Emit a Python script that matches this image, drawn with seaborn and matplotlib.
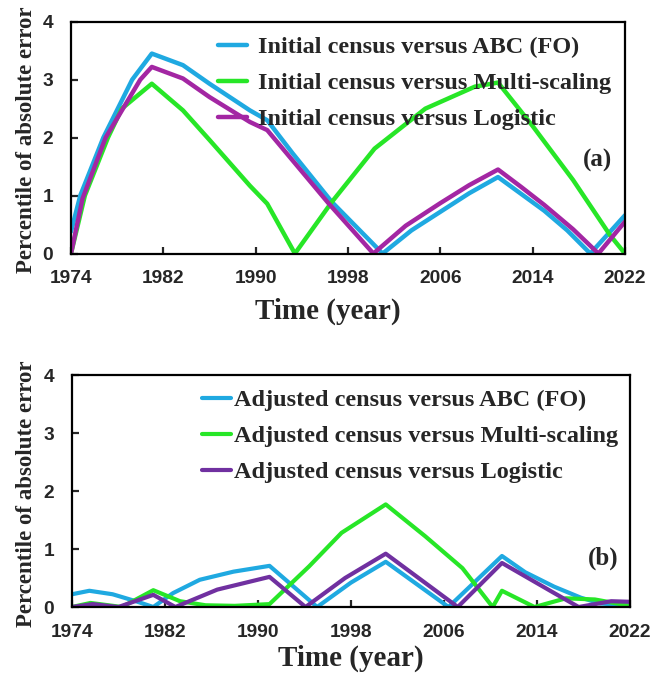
import numpy as np
import pandas as pd
import matplotlib
matplotlib.use("Agg")
import matplotlib.pyplot as plt
import seaborn as sns

# ---------------- data ----------------
# (a) initial census
blue_a_x = [1974, 1974.8, 1976.8, 1979.3, 1981, 1983.7, 1986, 1989.5, 1991, 1993.2, 1996.6,
            2001, 2003.5, 2006, 2008.5, 2011, 2013, 2015, 2017, 2019, 2022]
blue_a_y = [0.38, 1.0, 2.0, 3.0, 3.45, 3.25, 2.93, 2.47, 2.30, 1.73, 0.89,
            0.0, 0.40, 0.72, 1.04, 1.32, 1.03, 0.74, 0.40, 0.0, 0.66]
green_a_x = [1974, 1975.2, 1977.2, 1978.4, 1981, 1983.7, 1986, 1989.5, 1991, 1993.4, 1996.6,
             2000.3, 2004.7, 2009, 2011, 2014, 2017.5, 2020.7, 2022]
green_a_y = [0.0, 1.0, 2.0, 2.5, 2.93, 2.47, 1.96, 1.17, 0.86, 0.0, 0.89,
             1.81, 2.50, 2.88, 2.95, 2.20, 1.27, 0.32, 0.0]
purple_a_x = [1974, 1975, 1977, 1980, 1981, 1983.7, 1986, 1989.5, 1991, 1996.3, 2000.2,
              2003, 2006, 2008.5, 2011, 2013, 2015, 2017.5, 2019.7, 2022]
purple_a_y = [0.0, 0.95, 2.0, 3.0, 3.22, 3.02, 2.70, 2.27, 2.13, 0.87, 0.0,
              0.48, 0.87, 1.18, 1.45, 1.15, 0.84, 0.42, 0.0, 0.55]

# (b) adjusted census
blue_b_x = [1974, 1975.5, 1977.5, 1979.5, 1981, 1982.7, 1985, 1987.9, 1991, 1995.1, 1998,
            2001, 2006.4, 2011, 2013, 2015.5, 2017.8, 2019.5, 2022]
blue_b_y = [0.22, 0.28, 0.22, 0.10, 0.0, 0.24, 0.47, 0.61, 0.71, 0.0, 0.42,
            0.78, 0.0, 0.88, 0.60, 0.35, 0.16, 0.06, 0.03]
green_b_x = [1974, 1975.6, 1978.3, 1981, 1983.3, 1985.5, 1988, 1991, 1994.4, 1997.2, 2001,
             2004.4, 2007.6, 2010.2, 2011, 2013.8, 2016.5, 2019, 2022]
green_b_y = [0.0, 0.07, 0.0, 0.29, 0.10, 0.03, 0.02, 0.05, 0.70, 1.28, 1.77,
             1.22, 0.67, 0.0, 0.28, 0.0, 0.15, 0.13, 0.02]
purple_b_x = [1974, 1975.8, 1978, 1981, 1982.9, 1986.5, 1991, 1994.1, 1997.5, 2001,
              2007.2, 2011, 2015.5, 2017.6, 2020.4, 2022]
purple_b_y = [0.0, 0.05, 0.0, 0.21, 0.0, 0.30, 0.52, 0.0, 0.50, 0.92,
              0.0, 0.76, 0.24, 0.0, 0.10, 0.09]

labels_a = ["Initial census versus ABC (FO)",
            "Initial census versus Multi-scaling",
            "Initial census versus Logistic"]
labels_b = ["Adjusted census versus ABC (FO)",
            "Adjusted census versus Multi-scaling",
            "Adjusted census versus Logistic"]
x_ticks = [1974, 1982, 1990, 1998, 2006, 2014, 2022]
y_ticks = [0, 1, 2, 3, 4]
xlabel = "Time (year)"
ylabel = "Percentile of absolute error"

colors_a = ["#1FA9E1", "#27E627", "#A326A3"]
colors_b = ["#1FA9E1", "#27E627", "#7030A0"]

def frame(xs, ys, name):
    return pd.DataFrame({"year": xs, "value": ys, "series": name})

df_a = pd.concat([frame(blue_a_x, blue_a_y, labels_a[0]),
                  frame(green_a_x, green_a_y, labels_a[1]),
                  frame(purple_a_x, purple_a_y, labels_a[2])], ignore_index=True)
df_b = pd.concat([frame(blue_b_x, blue_b_y, labels_b[0]),
                  frame(green_b_x, green_b_y, labels_b[1]),
                  frame(purple_b_x, purple_b_y, labels_b[2])], ignore_index=True)

sns.set_style("white")
plt.rcParams["font.family"] = ["Liberation Serif", "DejaVu Serif"]

fig = plt.figure(figsize=(6.54, 6.78), dpi=100)
ax1 = fig.add_axes([0.1086, 0.626, 0.847, 0.342])
ax2 = fig.add_axes([0.110, 0.1047, 0.853, 0.342])

def draw(ax, df, labels, colors, lw, leg_anchor, handletextpad, tag, tag_pos, xl_pos):
    sns.lineplot(data=df, x="year", y="value", hue="series", hue_order=labels,
                 palette=dict(zip(labels, colors)), estimator=None, sort=False,
                 linewidth=lw, ax=ax, legend=False)
    ax.set_xlim(1974, 2022)
    ax.set_ylim(0, 4)
    ax.set_xticks(x_ticks)
    ax.set_yticks(y_ticks)
    ax.set_xticklabels([str(t) for t in x_ticks])
    ax.set_yticklabels([str(t) for t in y_ticks])
    for sp in ax.spines.values():
        sp.set_visible(True)
        sp.set_color("black")
        sp.set_linewidth(1.6)
    ax.tick_params(axis="both", direction="in", length=5, width=1.6,
                   bottom=True, left=True, top=False, right=False)
    ax.tick_params(axis="x", pad=12)
    ax.tick_params(axis="y", pad=13)
    for t in ax.get_xticklabels() + ax.get_yticklabels():
        t.set_fontfamily("Liberation Sans")
        t.set_fontweight("bold")
        t.set_fontsize(13.8)
    ax.set_xlabel(xlabel, fontsize=21, fontweight="bold")
    ax.set_ylabel(ylabel, fontsize=16.5, fontweight="bold")
    ax.xaxis.set_label_coords(*xl_pos)
    ax.yaxis.set_label_coords(-0.062, 0.49)
    handles = ax.get_lines()[:3]
    ax.legend(handles, labels, loc="upper left", bbox_to_anchor=leg_anchor,
              frameon=False, prop={"family": "Liberation Serif", "weight": "bold", "size": 17.5},
              handlelength=1.2, handletextpad=handletextpad, labelspacing=0.58,
              borderpad=0, borderaxespad=0)
    ax.text(tag_pos[0], tag_pos[1], tag, transform=ax.transAxes, ha="right", va="center",
            fontsize=18, fontweight="bold")

draw(ax1, df_a, labels_a, colors_a, 3.2, (0.265, 0.938), 0.45, "(a)", (0.977, 0.40), (0.464, -0.192))
draw(ax2, df_b, labels_b, colors_b, 3.0, (0.233, 0.94), 0.12, "(b)", (0.98, 0.21), (0.5, -0.164))

fig.savefig("out.png", dpi=100)
